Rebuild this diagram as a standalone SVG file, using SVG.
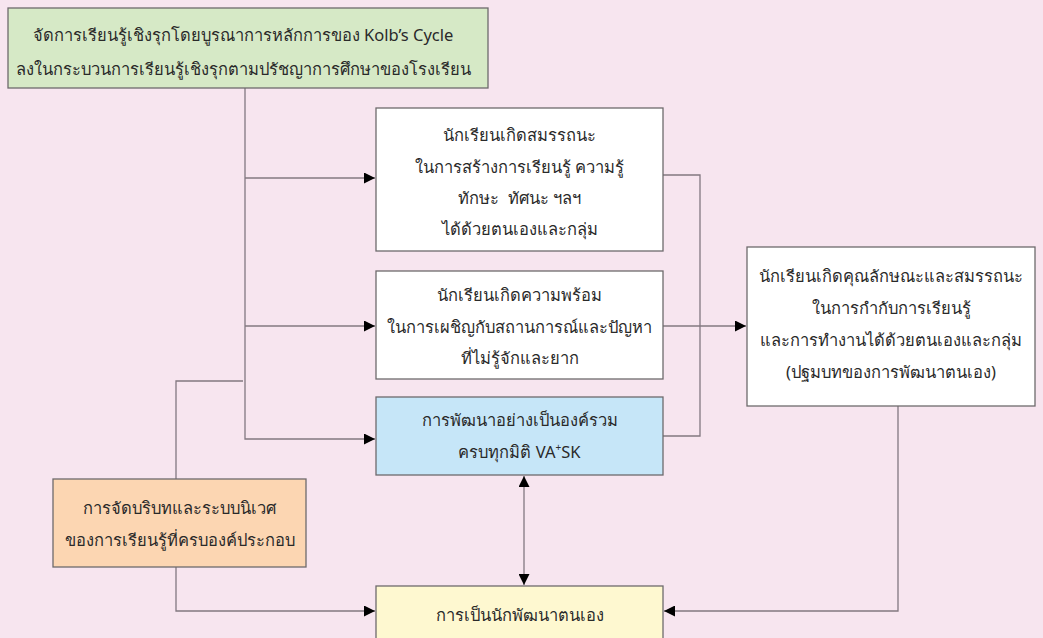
<svg xmlns="http://www.w3.org/2000/svg" width="1043" height="638" viewBox="0 0 1043 638">
  <style>
    .box { stroke: #6e6a6c; stroke-width: 1.3; }
    .lbl { font-family: "Noto Sans", "Liberation Sans", sans-serif; font-size: 16.5px; fill: #2a2a2a; text-anchor: middle; }
    .wire { fill: none; stroke: #837880; stroke-width: 1.3; }
  </style>
  <defs>
    <marker id="arrow" markerUnits="userSpaceOnUse" markerWidth="11" markerHeight="11" viewBox="0 0 10 10" refX="10" refY="5" orient="auto-start-reverse">
      <path d="M0,0 L10,5 L0,10 Z" fill="#000"/>
    </marker>
  </defs>

  <rect width="1043" height="638" fill="#f7e5ef"/>

  <g id="connectors">
    <!-- spine from the top box with three branches -->
    <path class="wire" d="M245,88 V439 H375" marker-end="url(#arrow)"/>
    <path class="wire" d="M245,178 H375" marker-end="url(#arrow)"/>
    <path class="wire" d="M245,326 H375" marker-end="url(#arrow)"/>
    <!-- outcomes merging into the right box -->
    <path class="wire" d="M663,175 H700 V436 H663"/>
    <path class="wire" d="M663,326 H746" marker-end="url(#arrow)"/>
    <!-- right box down to the bottom box -->
    <path class="wire" d="M898,406 V611 H664" marker-end="url(#arrow)"/>
    <!-- two-way link between holistic development and self-development -->
    <path class="wire" d="M524,476 V585" marker-start="url(#arrow)" marker-end="url(#arrow)"/>
    <!-- context box links -->
    <path class="wire" d="M176,479 V381 H243"/>
    <path class="wire" d="M176,567 V611 H375" marker-end="url(#arrow)"/>
  </g>

  <g id="node-kolb">
    <rect class="box" x="8" y="8" width="480" height="80" fill="#d6e9c6"/>
    <text class="lbl" x="243" y="41">จัดการเรียนรู้เชิงรุกโดยบูรณาการหลักการของ Kolb’s Cycle</text>
    <text class="lbl" x="243" y="75">ลงในกระบวนการเรียนรู้เชิงรุกตามปรัชญาการศึกษาของโรงเรียน</text>
  </g>

  <g id="node-competency">
    <rect class="box" x="376" y="108" width="287" height="143" fill="#ffffff"/>
    <text class="lbl" x="519.5" y="141">นักเรียนเกิดสมรรถนะ</text>
    <text class="lbl" x="519.5" y="173">ในการสร้างการเรียนรู้ ความรู้</text>
    <text class="lbl" x="519.5" y="204" style="white-space:pre">ทักษะ  ทัศนะ ฯลฯ</text>
    <text class="lbl" x="519.5" y="235">ได้ด้วยตนเองและกลุ่ม</text>
  </g>

  <g id="node-readiness">
    <rect class="box" x="376" y="271" width="287" height="108" fill="#ffffff"/>
    <text class="lbl" x="519.5" y="301">นักเรียนเกิดความพร้อม</text>
    <text class="lbl" x="519.5" y="333">ในการเผชิญกับสถานการณ์และปัญหา</text>
    <text class="lbl" x="519.5" y="364">ที่ไม่รู้จักและยาก</text>
  </g>

  <g id="node-holistic">
    <rect class="box" x="376" y="397" width="287" height="78" fill="#c6e6f8"/>
    <text class="lbl" x="519.5" y="426">การพัฒนาอย่างเป็นองค์รวม</text>
    <text class="lbl" x="519.5" y="458">ครบทุกมิติ VA<tspan font-size="10" dy="-7">+</tspan><tspan dy="7">SK</tspan></text>
  </g>

  <g id="node-attributes">
    <rect class="box" x="747" y="247" width="288" height="159" fill="#ffffff"/>
    <text class="lbl" x="891" y="282">นักเรียนเกิดคุณลักษณะและสมรรถนะ</text>
    <text class="lbl" x="891" y="314">ในการกำกับการเรียนรู้</text>
    <text class="lbl" x="891" y="346">และการทำงานได้ด้วยตนเองและกลุ่ม</text>
    <text class="lbl" x="891" y="378">(ปฐมบทของการพัฒนาตนเอง)</text>
  </g>

  <g id="node-context">
    <rect class="box" x="53" y="479" width="253" height="88" fill="#fcd6b2"/>
    <text class="lbl" x="179.5" y="514">การจัดบริบทและระบบนิเวศ</text>
    <text class="lbl" x="179.5" y="546">ของการเรียนรู้ที่ครบองค์ประกอบ</text>
  </g>

  <g id="node-self-developer">
    <rect class="box" x="376" y="586" width="287" height="60" fill="#fef8d0"/>
    <text class="lbl" x="519.5" y="621">การเป็นนักพัฒนาตนเอง</text>
  </g>
</svg>
